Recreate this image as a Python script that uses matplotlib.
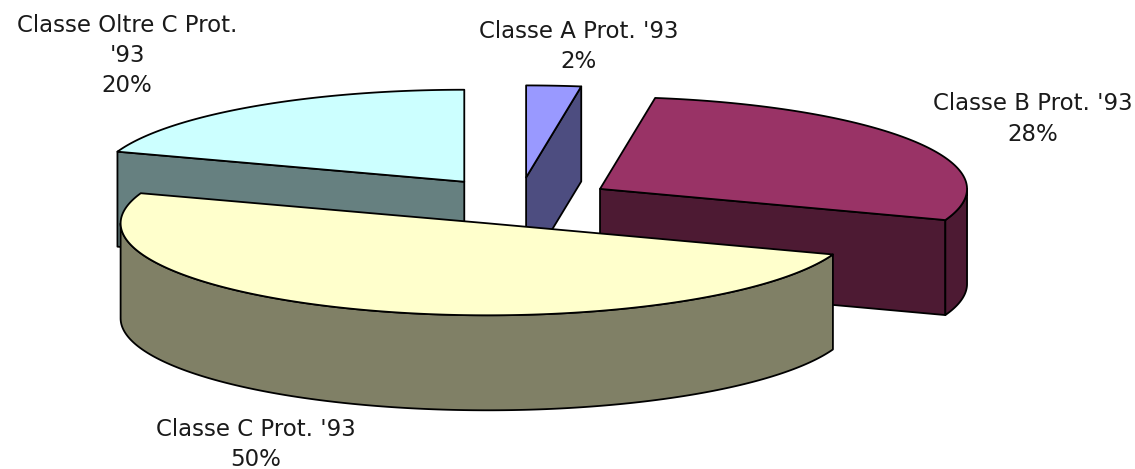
import numpy as np
import matplotlib
matplotlib.use("Agg")
import matplotlib.pyplot as plt
from matplotlib.patches import Polygon

# ---- data ----
categories = ["Classe A Prot. '93", "Classe B Prot. '93",
              "Classe C Prot. '93", "Classe Oltre C Prot.\n'93"]
values = [2.4, 28.1, 49.8, 19.7]
top_colors = ["#9999FF", "#993366", "#FFFFCC", "#CCFFFF"]
side_colors = ["#4D4D80", "#4D1A33", "#808066", "#668080"]
label_pos = [(579, 31), (1033, 104), (256, 429), (127, 25)]

# ---- layout (pixel space) ----
W, HGT = 1135, 469
CX, CY = 519, 201      # pie centre (top face)
RX, RY = 367, 92       # projected radii
THICK = 95             # depth of the pie
EXPLODE = 0.257        # explosion as fraction of radius
LW = 1.3
PITCH = 30.5           # label line pitch in pixels

fig = plt.figure(figsize=(W / 100, HGT / 100), dpi=100)
ax = fig.add_axes([0, 0, 1, 1])
ax.set_xlim(0, W)
ax.set_ylim(HGT, 0)
ax.axis("off")

total = sum(values)
starts = np.concatenate([[0], np.cumsum(values)[:-1]]) / total * 360
ends = np.cumsum(values) / total * 360
mids = (starts + ends) / 2


def pt(theta, vx, vy):
    t = np.radians(theta)
    return vx + RX * np.sin(t), vy - RY * np.cos(t)


def arc(a0, a1, vx, vy, dy=0, n=200):
    th = np.linspace(a0, a1, n)
    x, y = pt(th, vx, vy)
    return np.column_stack([x, y + dy])


def poly(points, fc, z):
    ax.add_patch(Polygon(points, closed=True, facecolor=fc, edgecolor="black",
                         linewidth=LW, joinstyle="round", zorder=z))


# back slices first
order = sorted(range(len(values)), key=lambda i: np.cos(np.radians(mids[i])), reverse=True)

z = 1
for i in order:
    a0, a1, m = starts[i], ends[i], mids[i]
    vx = CX + EXPLODE * RX * np.sin(np.radians(m))
    vy = CY - EXPLODE * RY * np.cos(np.radians(m))
    # radial cut faces facing the viewer
    for ang, vis in ((a0, np.sin(np.radians(a0)) < -1e-6),
                     (a1, np.sin(np.radians(a1)) > 1e-6)):
        if vis:
            px, py = pt(ang, vx, vy)
            poly([(vx, vy), (px, py), (px, py + THICK), (vx, vy + THICK)],
                 side_colors[i], z)
            z += 1
    # outer curved side (front part only)
    s0, s1 = max(a0, 90), min(a1, 270)
    if s1 > s0:
        topa = arc(s0, s1, vx, vy)
        bota = arc(s0, s1, vx, vy, dy=THICK)[::-1]
        poly(np.vstack([topa, bota]), side_colors[i], z)
        z += 1
    # top face
    poly(np.vstack([[(vx, vy)], arc(a0, a1, vx, vy)]), top_colors[i], z)
    z += 1

for i, (lx, ly) in enumerate(label_pos):
    lines = categories[i].split("\n") + [f"{round(values[i] / total * 100)}%"]
    for k, line in enumerate(lines):
        ax.text(lx, ly + k * PITCH, line, ha="center", va="center",
                fontsize=16.5, color="#1a1a1a", family="DejaVu Sans",
                zorder=50)

fig.savefig("out.png", dpi=100)
